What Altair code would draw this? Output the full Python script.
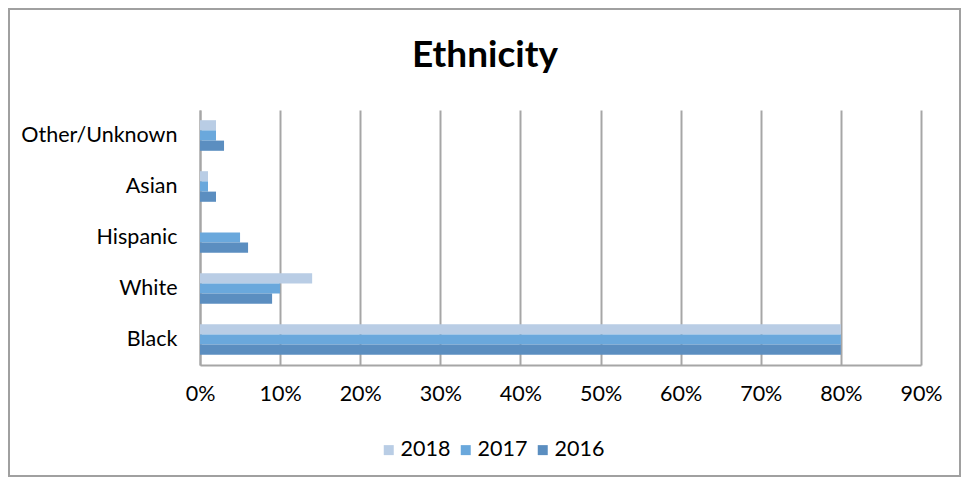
import altair as alt
import pandas as pd

title_text = "Ethnicity"
categories = ["Other/Unknown", "Asian", "Hispanic", "White", "Black"]
years = ["2018", "2017", "2016"]
v2018 = [0.02, 0.01, 0.0, 0.14, 0.80]
v2017 = [0.02, 0.01, 0.05, 0.10, 0.80]
v2016 = [0.03, 0.02, 0.06, 0.09, 0.80]
colors = ["#B9CDE5", "#6AA8DC", "#5B8EC0"]
tick_values = [0.0, 0.1, 0.2, 0.3, 0.4, 0.5, 0.6, 0.7, 0.8, 0.9]

rows = []
for yr, vals in zip(years, [v2018, v2017, v2016]):
    for c, v in zip(categories, vals):
        rows.append({"cat": c, "year": yr, "value": v})
df = pd.DataFrame(rows)

FONT = "Lato"
GRID = "#A6A6A6"
W, H = 721, 255

bars = alt.Chart(df).mark_bar().encode(
    x=alt.X("value:Q",
            scale=alt.Scale(domain=[0, 0.9], nice=False, zero=True),
            axis=alt.Axis(format=".0%", values=tick_values, grid=True, gridColor=GRID,
                          gridWidth=2, gridOpacity=1, domain=True, domainColor=GRID,
                          domainWidth=2, ticks=False, labelPadding=18, labelFontSize=21.5,
                          labelFont=FONT, labelColor="#000000", labelFlush=False,
                          labelOverlap=False, title=None)),
    y=alt.Y("cat:N", sort=categories,
            scale=alt.Scale(paddingInner=0.4, paddingOuter=0.2),
            axis=alt.Axis(domain=True, domainColor=GRID, domainWidth=2, ticks=False,
                          grid=False, labelPadding=23, labelFontSize=21.5, labelFont=FONT,
                          labelColor="#000000", title=None)),
    yOffset=alt.YOffset("year:N", sort=years, scale=alt.Scale(paddingInner=0, paddingOuter=0)),
    color=alt.Color("year:N", scale=alt.Scale(domain=years, range=colors),
                    legend=alt.Legend(orient="none", legendX=178, legendY=329,
                                      direction="horizontal", title=None,
                                      symbolType="square", symbolSize=100,
                                      symbolStrokeWidth=0, labelFont=FONT,
                                      labelFontSize=21.5, labelColor="#000000",
                                      labelOffset=1, columnPadding=4)),
)

border = alt.Chart(pd.DataFrame({"a": [0]})).mark_rect(
    filled=False, stroke="#A0A0A0", strokeWidth=2
).encode(x=alt.value(-191), x2=alt.value(760), y=alt.value(-101), y2=alt.value(366))

title = alt.Chart(pd.DataFrame({"t": [title_text]})).mark_text(
    font=FONT, fontSize=37, fontWeight="bold", color="#000000",
    align="center", baseline="alphabetic"
).encode(text="t:N", x=alt.value(285), y=alt.value(-43))

chart = alt.layer(border, bars, title).properties(
    width=W, height=H,
    background="#FFFFFF",
    autosize=alt.AutoSizeParams(type="none"),
    padding={"left": 192, "top": 102, "right": 40, "bottom": 112},
).configure_view(stroke=None, strokeWidth=0)

chart.save("out.html", embed_options={"renderer": "svg", "actions": False})
